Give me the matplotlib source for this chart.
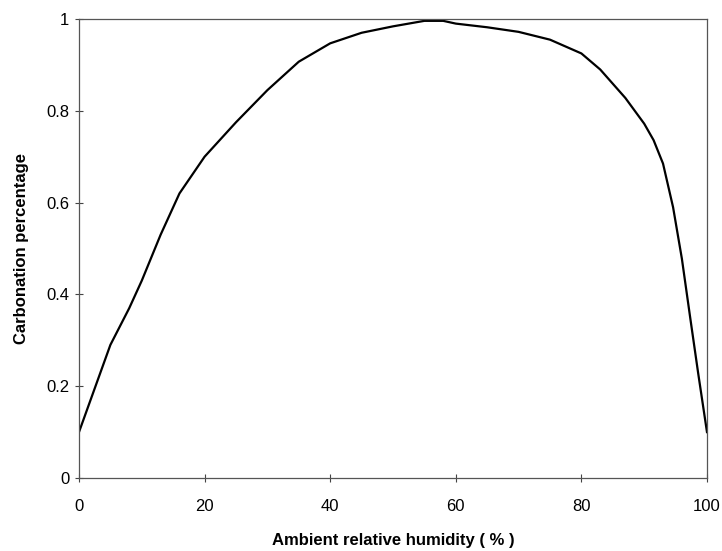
import matplotlib

matplotlib.use("Agg")
import matplotlib.pyplot as plt

# Ambient relative humidity (%) vs carbonation percentage
humidity = [0, 5, 8, 10, 13, 16, 20, 25, 30, 35, 40, 45, 50, 55, 58, 60,
            65, 70, 75, 80, 83, 87, 90, 91.5, 93, 94.6, 96, 97.3, 98.6, 100]
carbonation = [0.10, 0.29, 0.37, 0.43, 0.53, 0.62, 0.70, 0.775, 0.845, 0.907,
               0.947, 0.970, 0.984, 0.996, 0.996, 0.990, 0.982, 0.972, 0.955,
               0.925, 0.89, 0.828, 0.772, 0.736, 0.685, 0.59, 0.478, 0.352,
               0.228, 0.10]

x_ticks = [0, 20, 40, 60, 80, 100]
y_ticks = [0, 0.2, 0.4, 0.6, 0.8, 1]
y_tick_labels = ["0", "0.2", "0.4", "0.6", "0.8", "1"]

plt.rcParams.update({
    "font.family": ["Liberation Sans", "DejaVu Sans"],
    "font.size": 12,
})

fig = plt.figure(figsize=(7.22, 5.51), dpi=100)
ax = fig.add_axes([0.1094, 0.1325, 0.8698, 0.833])

ax.plot(humidity, carbonation, color="black", lw=1.6, solid_joinstyle="round")

ax.set_xlim(0, 100)
ax.set_ylim(0, 1)
ax.set_xticks(x_ticks)
ax.set_yticks(y_ticks)
ax.set_yticklabels(y_tick_labels)
ax.tick_params(direction="inout", length=6, width=0.8, color="#444444",
               labelsize=12)
ax.tick_params(axis="x", pad=12)
ax.tick_params(axis="y", pad=4)

for sp in ax.spines.values():
    sp.set_color("#555555")
    sp.set_linewidth(0.9)

ax.set_xlabel("Ambient relative humidity ( % )", fontweight="bold", fontsize=12, labelpad=14)
ax.set_ylabel("Carbonation percentage", fontweight="bold", fontsize=12, labelpad=12)

plt.savefig("out.png", dpi=100, facecolor="white")
plt.close(fig)
